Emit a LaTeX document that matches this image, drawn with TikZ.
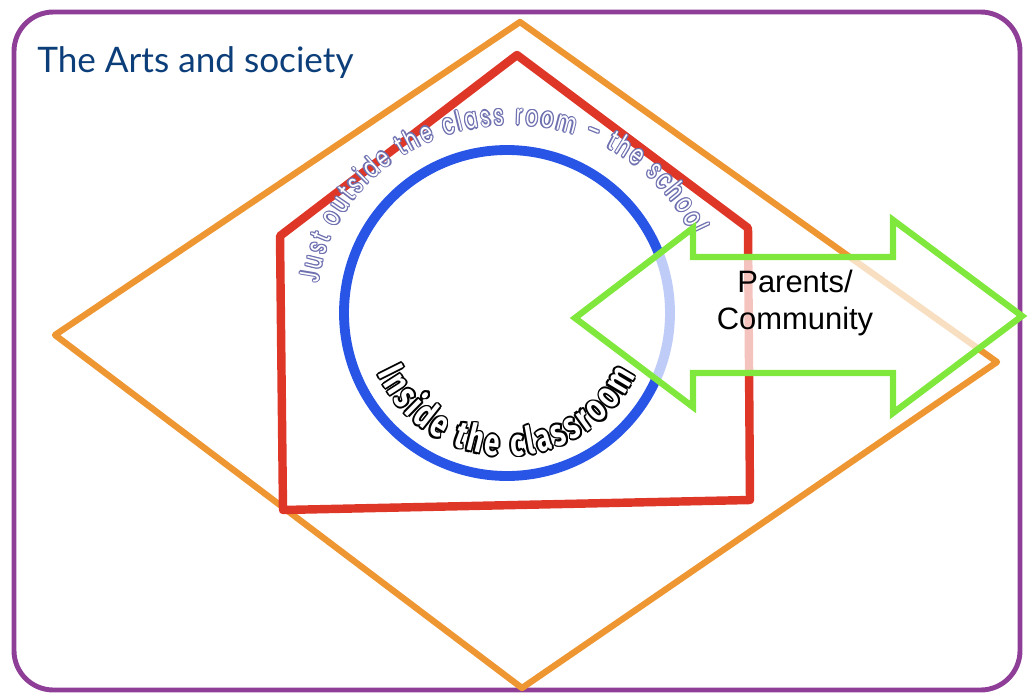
\documentclass[tikz,border=0pt]{standalone}
\usepackage{fontspec}
\setmainfont{Liberation Sans}
\newfontfamily\titlefont{Lato}
\newfontfamily\roundfont{Poppins}[FakeStretch=0.68]
\newfontfamily\insidefont{Fira Sans}[FakeStretch=0.72]
\usetikzlibrary{decorations.text}
\definecolor{mypurple}{RGB}{142,62,150}
\definecolor{myorange}{RGB}{238,150,50}
\definecolor{myred}{RGB}{222,55,40}
\definecolor{myblue}{RGB}{40,85,230}
\definecolor{mygreen}{RGB}{128,232,60}
\definecolor{mynavy}{RGB}{12,62,122}
\definecolor{myslate}{RGB}{110,112,176}
% fonts for the two curved labels, outline colour and fill colour
\newcommand\outerrim{\roundfont\fontsize{20}{20}\selectfont\color{myslate}}
\newcommand\outerfill{\roundfont\fontsize{20}{20}\selectfont\color{white}}
\newcommand\innerrim{\insidefont\bfseries\fontsize{27}{27}\selectfont\color{black}}
\newcommand\innerfill{\insidefont\bfseries\fontsize{27}{27}\selectfont\color{white}}
\tikzset{
  frame line/.style={line width=3.5pt,draw=mypurple,rounded corners=28pt},
  society line/.style={line width=4.5pt,draw=myorange,line join=round},
  school line/.style={line width=6pt,draw=myred,line join=round},
  class line/.style={line width=7pt,draw=myblue},
  arrow line/.style={line width=4.5pt,draw=mygreen,fill=white,fill opacity=0.7},
  title text/.style={anchor=base west,inner sep=0,text=mynavy,font=\titlefont\fontsize{25}{30}\selectfont},
  arrow text/.style={align=center,inner sep=0,font=\fontsize{22}{26}\selectfont},
  school label/.style={decorate,decoration={text along path,text align=fit to path,
    text={|#1|Just outside the class room – the school}}},
  class label/.style={decorate,decoration={text along path,text align=fit to path,
    text={|#1|Inside the classroom}}}
}
\begin{document}
\begin{tikzpicture}[x=0.025cm,y=-0.025cm]
\useasboundingbox (0,0) rectangle (1032,697);
\draw[frame line] (14,12) rectangle (1020,690);
\path (37,72) node[title text] (title) {The Arts and society};
% the arts and society
\path (520,22) coordinate (d top)
      (997,362) coordinate (d right)
      (522,688) coordinate (d bottom)
      (55,335) coordinate (d left);
\draw[society line] (d top) -- (d right) -- (d bottom) -- (d left) -- cycle;
% the school
\path (517,55) coordinate (s top)
      (748,228) coordinate (s right)
      (750,500) coordinate (s br)
      (283,510) coordinate (s bl)
      (280,236) coordinate (s left);
\draw[school line] (s top) -- (s right) -- (s br) -- (s bl) -- (s left) -- cycle;
% the classroom
\coordinate (C) at (507,313);
\coordinate (T) at (512,305);
\draw[class line] (C) circle (163);
\foreach \a in {0,45,...,315}{
  \path[school label=\outerrim] ([shift={(\a:1.2)}]T) ++(-173:195 and 180) arc[start angle=-173,end angle=-23,x radius=195,y radius=180];
  \path[class label=\innerrim] ([shift={(\a:1.8)}]C) ++(-205:143) arc[start angle=-205,end angle=-334,radius=143];
}
\path[school label=\outerfill] (T) ++(-173:195 and 180) arc[start angle=-173,end angle=-23,x radius=195,y radius=180];
\path[class label=\innerfill] (C) ++(-205:143) arc[start angle=-205,end angle=-334,radius=143];
% parents and community
\path (575,318) coordinate (a1)
      (693,228) coordinate (a2)
      (693,257) coordinate (a3)
      (893,257) coordinate (a4)
      (893,220) coordinate (a5)
      (1022,316) coordinate (a6)
      (893,413) coordinate (a7)
      (893,373) coordinate (a8)
      (693,373) coordinate (a9)
      (693,407) coordinate (a10);
\draw[arrow line] (a1) -- (a2) -- (a3) -- (a4) -- (a5) -- (a6) -- (a7) -- (a8) -- (a9) -- (a10) -- cycle;
\path (795,303) node[arrow text] (pc) {Parents/\\Community};
\end{tikzpicture}
\end{document}
